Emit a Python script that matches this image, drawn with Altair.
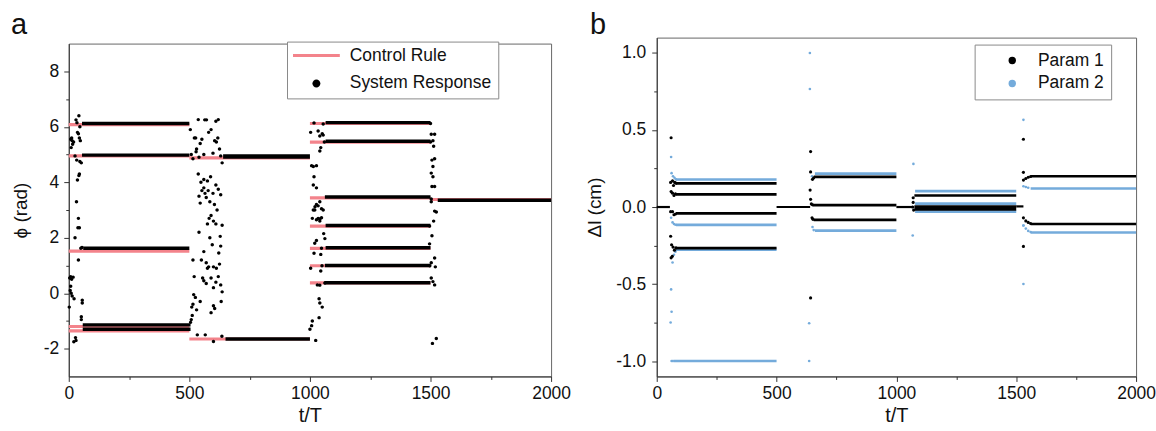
import altair as alt
import pandas as pd

FONT = "Liberation Sans"
PINK = "#f3838b"
BLUE = "#74abdb"
BLACK = "#000000"

# ---------------- Panel a data ----------------
ctrl_t0 = [0, 0, 0, 0, 0, 500, 500, 1000, 1000, 1000, 1000, 1000, 1000, 1000, 1500]
ctrl_t1 = [500, 500, 500, 500, 500, 1000, 1000, 1500, 1500, 1500, 1500, 1500, 1500, 1500, 2000]
ctrl_phi = [6.08, 4.95, 1.52, -1.20, -1.36, 4.88, -1.65, 6.12, 5.45, 3.44, 2.42, 1.62, 0.99, 0.37, 3.38]

resp_t0 = [55, 55, 60, 58, 58, 640, 650, 1065, 1065, 1062, 1065, 1065, 1062, 1060, 1530]
resp_t1 = [500, 500, 500, 505, 505, 1000, 1000, 1500, 1500, 1500, 1500, 1500, 1500, 1500, 2000]
resp_phi = [6.12, 4.98, 1.62, -1.14, -1.30, 4.93, -1.65, 6.15, 5.48, 3.47, 2.44, 1.64, 1.00, 0.38, 3.35]
resp_w = [3.4, 3.4, 3.4, 3.4, 3.4, 4.4, 3.6, 3.4, 3.4, 3.4, 3.4, 3.4, 3.4, 3.4, 3.6]

scat_t = [
    8, 12, 16, 10, 20, 14, 30, 42, 36, 40, 46, 44, 48, 34, 33, 46, 52, 26, 36, 42, 44,
    32, 40, 38, 44, 26, 40, 50, 55, 4, 8, 12, 18, 6, 10, 14, 22, 2, 8, 56, 56, 52, 52, 30, 28, 21,
    504, 521, 526, 530, 528, 508, 537, 545, 552, 560, 564, 571, 580, 590, 598, 605, 610, 620, 612, 618,
    625, 630, 636, 515, 540, 537, 548, 560, 575, 588, 540, 552, 560, 565, 570, 578, 585, 598, 610, 620,
    630, 604, 615, 545, 575, 582, 590, 600, 610, 585, 595, 560, 622, 630, 550, 570, 600, 612, 625, 636,
    628, 540, 555, 560, 575, 580, 590, 600, 610, 620, 630, 636, 518, 515, 525, 530, 512, 508, 545, 570,
    600, 605, 590, 632, 505, 510, 533, 566, 600, 635, 520, 515,
    1017, 1003, 1034, 1041, 1051, 1055, 1045, 1041, 1007, 1014, 1027, 1017, 1014, 1027, 1027, 1041, 1014,
    1020, 1034, 1048, 1041, 1021, 1034, 1048, 1055, 1010, 1027, 1041, 1057, 1062, 1027, 1020, 1017, 1045,
    1003, 1045, 1031, 1041, 1038, 1041, 1051, 1038, 1007, 1010, 1000, 1024, 1060, 1055, 1048, 1050, 1062,
    1503, 1517, 1510, 1513, 1506, 1517, 1510, 1503, 1510, 1506, 1517, 1503, 1503, 1524, 1517, 1513, 1506,
    1496, 1517, 1503, 1520, 1503, 1510, 1517, 1508, 1524, 1500, 1500, 1496, 1497,
]
scat_phi = [
    5.55, 5.6, 5.37, 5.25, 5.45, 5.5, 6.25, 6.4, 5.8, 5.75, 6.0, 5.6, 5.5, 6.15, 4.8, 4.75, 4.7, 4.95, 4.08, 4.24, 4.3,
    3.3, 2.7, 2.36, 2.36, 2.0, 1.2, 1.62, 1.65, 0.55, 0.6, 0.5, 0.58, 0.1, 0.0, -0.1, -0.2, -0.5, 0.25, -0.25, -0.35, -0.85, -0.95, -1.7, -1.6, -1.75,
    5.9, 5.6, 5.6, 5.2, 5.1, 5.0, 6.26, 5.4, 5.55, 5.0, 6.25, 6.25, 5.8, 5.9, 5.05, 5.5, 6.2, 6.26, 5.45, 5.6,
    5.2, 4.95, 4.7, 4.85, 4.9, 4.3, 4.0, 4.1, 4.05, 4.2, 3.5, 3.7, 3.8, 3.6, 3.45, 3.7, 3.3, 3.6, 3.9, 3.75,
    3.55, 3.2, 3.0, 3.25, 2.5, 2.7, 2.8, 2.6, 2.5, 2.0, 1.75, 1.5, 1.45, 1.7, 1.2, 1.1, 0.95, 0.9, 1.05, 2.45,
    2.05, 2.2, 0.55, 0.45, 0.9, 0.95, 0.55, 0.2, 0.4, 0.6, 0.3, 0.05, -0.05, -0.4, -0.15, -0.6, -0.8, -0.95, -0.3, 0.35,
    -0.45, -0.55, -0.7, -0.3, -1.05, -0.5, -1.5, -1.5, -1.74, -1.55, 0.6, 1.2,
    6.14, 5.8, 5.85, 5.67, 5.75, 5.7, 5.25, 5.13, 4.6, 4.57, 4.6, 4.2, 3.9, 3.8, 3.2, 3.3, 3.0,
    3.0, 2.7, 2.72, 2.6, 3.12, 3.15, 3.05, 3.0, 2.7, 2.65, 2.68, 2.15, 1.97, 1.9, 1.8, 1.44, 1.4,
    0.9, 0.8, 0.3, 0.29, -0.2, -0.35, -0.5, -0.88, -1.17, -1.0, -1.3, -1.7, 5.45, 6.1, 1.62, 0.99, 0.37,
    5.73, 5.73, 5.5, 5.3, 4.8, 4.85, 4.57, 4.33, 4.2, 3.85, 3.85, 3.4, 3.3, 2.93, 2.96, 2.6, 2.07,
    1.78, 1.27, 1.1, 0.95, 0.55, 0.42, 0.3, -1.81, -1.63, 6.12, 5.45, 2.42, 0.99,
]

# ---------------- Panel b data ----------------
p1_line_t0 = [0, 80, 80, 80, 80, 500, 655, 650, 1000, 655, 1075, 1075, 1500, 1560, 1560]
p1_line_t1 = [55, 500, 500, 500, 500, 640, 1000, 1000, 1070, 1000, 1500, 1500, 1530, 2000, 2000]
p1_line_v = [0.0, 0.153, 0.082, -0.041, -0.267, 0.0, 0.196, 0.013, 0.0, -0.084, 0.075, -0.006, 0.004, 0.200, -0.110]
p1_line_w = [2.2, 2.8, 2.8, 2.8, 2.8, 2.2, 2.8, 2.8, 2.2, 2.8, 2.6, 5.5, 2.2, 2.6, 2.6]

p2_line_t0 = [70, 80, 80, 80, 660, 660, 1078, 1078, 1078, 1560, 1560]
p2_line_t1 = [500, 500, 500, 500, 1000, 1000, 1500, 1500, 1500, 2000, 2000]
p2_line_v = [-1.0, 0.179, -0.116, -0.277, 0.217, -0.153, 0.103, 0.022, -0.030, 0.120, -0.165]

p1_t = [60, 642, 642, 642, 640, 642, 1530, 1530, 1530,
        58, 66, 70, 75, 80, 60, 66, 72, 78, 58, 66, 72, 78, 58, 62, 68, 74, 80, 60, 65,
        645, 650, 648, 652, 650, 655, 1068, 1070, 1072, 1070,
        1530, 1540, 1550, 1560, 1530, 1540, 1550, 1560]
p1_v = [0.45, 0.36, -0.59, 0.228, 0.11, 0.05, 0.44, 0.225, -0.256,
        0.16, 0.17, 0.14, 0.16, 0.155, 0.1, 0.09, 0.075, 0.085, -0.03, -0.03, -0.05, -0.045, -0.19, -0.245, -0.26, -0.28, -0.265, -0.33, -0.32,
        0.02, 0.015, -0.07, -0.08, 0.18, 0.19, 0.0, 0.06, -0.02, 0.03,
        0.175, 0.185, 0.193, 0.198, -0.07, -0.09, -0.1, -0.107]

p2_t = [60, 60, 62, 58, 636, 636, 639, 639, 1071, 1068, 1530, 1530, 1530,
        62, 68, 74, 80, 60, 66, 72, 78, 66, 72, 78, 62, 67,
        648, 650, 655,
        1530, 1540, 1550, 1530, 1540, 1550, 1560]
p2_v = [0.325, -0.535, -0.68, -0.75, -0.755, -1.0, 1.0, 0.766, 0.28, -0.185, 0.566, -0.5, -0.12,
        0.22, 0.2, 0.19, 0.18, -0.07, -0.1, -0.11, -0.115, -0.36, -0.31, -0.29, -1.0, -1.0,
        0.2, -0.13, -0.15,
        0.135, 0.13, 0.125, -0.12, -0.14, -0.155, -0.162]

panel_labels = ["a", "b"]

# ---------------- frames ----------------
ctrl_df = pd.DataFrame({"t0": ctrl_t0, "t1": ctrl_t1, "phi": ctrl_phi})
resp_df = pd.DataFrame({"t0": resp_t0, "t1": resp_t1, "phi": resp_phi, "w": resp_w})
scat_df = pd.DataFrame({"t": scat_t, "phi": scat_phi, "series": "System Response"})

p1_line_df = pd.DataFrame({"t0": p1_line_t0, "t1": p1_line_t1, "v": p1_line_v, "w": p1_line_w})
p2_line_df = pd.DataFrame({"t0": p2_line_t0, "t1": p2_line_t1, "v": p2_line_v})
p1_df = pd.DataFrame({"t": p1_t, "v": p1_v, "series": "Param 1"})
p2_df = pd.DataFrame({"t": p2_t, "v": p2_v, "series": "Param 2"})

# ---------------- axes helpers ----------------
XS = alt.Scale(domain=[0, 2000], nice=False, zero=False)
YA = alt.Scale(domain=[-3, 9], nice=False, zero=False)
YB = alt.Scale(domain=[-1.1, 1.1], nice=False, zero=False)


def x_main():
    return alt.Axis(values=[0, 500, 1000, 1500, 2000], format="d", title="t/T", orient="bottom",
                    tickSize=5, labelFontSize=17.5, titleFontSize=20, labelPadding=3,
                    titlePadding=4, grid=False, labelFlush=False, labelOverlap=False)


def x_minor():
    return alt.Axis(values=[250, 750, 1250, 1750], labels=False, tickSize=3, domain=False,
                    grid=False, title=None, orient="bottom")


ya_main = alt.Axis(values=[-2, 0, 2, 4, 6, 8], title="ϕ (rad)", orient="left", tickSize=5,
                   labelFontSize=17.5, titleFontSize=19, labelPadding=5, titlePadding=13, grid=False,
                   labelExpr="(datum.value < 0 ? '-' : '') + format(abs(datum.value), 'd')")
ya_minor = alt.Axis(values=[-1, 1, 3, 5, 7], labels=False, tickSize=3, domain=False, grid=False,
                    title=None, orient="left")
yb_main = alt.Axis(values=[-1, -0.5, 0, 0.5, 1], title="Δl (cm)", orient="left", tickSize=5,
                   labelFontSize=17.5, titleFontSize=19, labelPadding=6, titlePadding=11, grid=False,
                   labelExpr="(datum.value < 0 ? '-' : '') + format(abs(datum.value), '.1f')")
yb_minor = alt.Axis(values=[-0.75, -0.25, 0.25, 0.75], labels=False, tickSize=3, domain=False,
                    grid=False, title=None, orient="left")

RECT = "M-1,-0.065L1,-0.065L1,0.065L-1,0.065Z"
CIRC = "M0.17,0A0.17,0.17,0,1,1,-0.17,0A0.17,0.17,0,1,1,0.17,0Z"
LEG_A = ["Control Rule", "System Response"]
LEG_B = ["Param 1", "Param 2"]

leg_a = alt.Legend(title=None, orient="none", legendX=219, legendY=4, padding=6,
                   fillColor="white", strokeColor="#8a8a8a", clipHeight=16, rowPadding=10,
                   symbolSize=2209, symbolStrokeWidth=0, labelFontSize=17.5, labelFont=FONT,
                   labelColor="#111", labelOffset=10,
                   labelExpr="datum.label + '\u00a0\u00a0\u00a0\u00a0'")
leg_b = alt.Legend(title=None, orient="none", legendX=319, legendY=7, padding=7,
                   fillColor="white", strokeColor="#8a8a8a", clipHeight=18, rowPadding=5,
                   symbolType="circle", symbolSize=55, symbolStrokeWidth=0, symbolOffset=22,
                   labelFontSize=17.5, labelFont=FONT, labelColor="#111", labelOffset=17,
                   labelExpr="datum.label + '\u00a0\u00a0\u00a0'")


def panel_letter(text, dx):
    return alt.Chart(pd.DataFrame({"lab": [text]})).mark_text(
        fontSize=29, font=FONT, color="#111", align="left", baseline="alphabetic"
    ).encode(x=alt.value(dx), y=alt.value(-4), text="lab:N")


# ---------------- panel a ----------------
ctrl = alt.Chart(ctrl_df).mark_rule(color=PINK, strokeWidth=3.2).encode(
    x=alt.X("t0:Q", scale=XS, axis=x_main()),
    x2="t1:Q",
    y=alt.Y("phi:Q", scale=YA, axis=ya_main),
)
resp = alt.Chart(resp_df).mark_rule(color=BLACK).encode(
    x=alt.X("t0:Q", scale=XS, axis=None),
    x2="t1:Q",
    y=alt.Y("phi:Q", scale=YA, axis=None),
    strokeWidth=alt.StrokeWidth("w:Q", scale=None, legend=None),
)
scat = alt.Chart(scat_df).mark_point(filled=True, opacity=1, size=400, strokeWidth=0).encode(
    x=alt.X("t:Q", scale=XS, axis=x_minor()),
    y=alt.Y("phi:Q", scale=YA, axis=ya_minor),
    color=alt.Color("series:N", scale=alt.Scale(domain=LEG_A, range=[PINK, BLACK]), legend=leg_a),
    shape=alt.Shape("series:N", scale=alt.Scale(domain=LEG_A, range=[RECT, CIRC]), legend=leg_a),
)
panel_a = alt.layer(ctrl, resp, scat).resolve_axis(x="independent", y="independent").properties(
    width=484, height=334,
)

# thin invisible strip carrying the "a" label; it lowers panel a by a few pixels
spacer = panel_letter(panel_labels[0], -58).properties(
    width=484, height=4, view=alt.ViewBackground(stroke="transparent")
)

left = alt.vconcat(spacer, panel_a, spacing=0)

# ---------------- panel b ----------------
lines_b2 = alt.Chart(p2_line_df).mark_rule(color=BLUE, strokeWidth=2.6).encode(
    x=alt.X("t0:Q", scale=XS, axis=x_main()),
    x2="t1:Q",
    y=alt.Y("v:Q", scale=YB, axis=yb_main),
)
lines_b1 = alt.Chart(p1_line_df).mark_rule(color=BLACK).encode(
    x=alt.X("t0:Q", scale=XS, axis=None),
    x2="t1:Q",
    y=alt.Y("v:Q", scale=YB, axis=None),
    strokeWidth=alt.StrokeWidth("w:Q", scale=None, legend=None),
)
color_b = alt.Color("series:N", scale=alt.Scale(domain=LEG_B, range=[BLACK, BLUE]), legend=leg_b)
pts_b1 = alt.Chart(p1_df).mark_circle(opacity=1, size=10).encode(
    x=alt.X("t:Q", scale=XS, axis=x_minor()),
    y=alt.Y("v:Q", scale=YB, axis=yb_minor),
    color=color_b,
)
pts_b2 = alt.Chart(p2_df).mark_circle(opacity=1, size=7).encode(
    x=alt.X("t:Q", scale=XS, axis=None),
    y=alt.Y("v:Q", scale=YB, axis=None),
    color=color_b,
)
panel_b = alt.layer(lines_b2, lines_b1, pts_b2, pts_b1, panel_letter(panel_labels[1], -67)).resolve_axis(
    x="independent", y="independent"
).properties(width=481, height=340)

chart = alt.hconcat(left, panel_b, spacing=14).resolve_scale(
    color="independent", shape="independent"
).properties(
    padding={"left": 10, "top": 9, "right": 0, "bottom": 0},
    background="white",
).configure_view(
    stroke="#666", strokeWidth=1
).configure_axis(
    domainColor="#333", tickColor="#333", labelColor="#111", titleColor="#111",
    labelFont=FONT, titleFont=FONT, titleFontWeight="normal", domainWidth=1, tickWidth=1,
)

chart.save("out.html", embed_options={"renderer": "svg", "actions": False})
